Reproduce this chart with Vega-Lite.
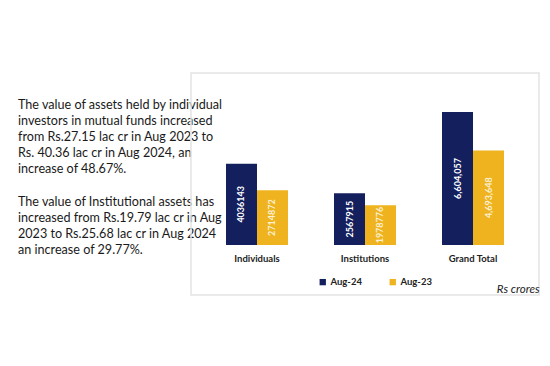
{
  "$schema": "https://vega.github.io/schema/vega-lite/v6.json",
  "autosize": {"type": "pad"},
  "padding": {"left": 0, "top": 72, "right": 0, "bottom": 0},
  "background": "white",
  "spacing": 0,
  "bounds": "flush",
  "config": {"concat": {"spacing": 0}},
  "hconcat": [
    {
      "width": 191,
      "height": 222,
      "view": {"stroke": null, "fill": null},
      "data": {"values": [
        {"line": 0, "text": "The value of assets held by individual"},
        {"line": 1, "text": "investors in mutual funds increased"},
        {"line": 2, "text": "from Rs.27.15 lac cr in Aug 2023 to"},
        {"line": 3, "text": "Rs. 40.36 lac cr in Aug 2024, an"},
        {"line": 4, "text": "increase of  48.67%."},
        {"line": 6, "text": "The value of Institutional assets has"},
        {"line": 7, "text": "increased from Rs.19.79 lac cr in Aug"},
        {"line": 8, "text": "2023 to Rs.25.68  lac cr in Aug 2024"},
        {"line": 9, "text": "an increase of 29.77%."}
      ]},
      "mark": {"type": "text", "align": "left", "baseline": "middle", "font": "Lato", "fontSize": 12.6, "color": "#1a1a1a"},
      "encoding": {
        "x": {"datum": 0, "type": "quantitative", "scale": {"domain": [-18, 173]}, "axis": null},
        "y": {"field": "line", "type": "quantitative", "scale": {"domain": [-1.986, 11.79], "reverse": true, "nice": false, "zero": false}, "axis": null},
        "text": {"field": "text"}
      }
    },
    {
      "width": 348,
      "height": 222,
      "view": {"stroke": "#e3e3e3", "strokeWidth": 1.5, "fill": null},
      "data": {"values": [
        {"category": "Individuals", "period": "Aug-24", "value": 4036143, "label": "4036143"},
        {"category": "Individuals", "period": "Aug-23", "value": 2714872, "label": "2714872"},
        {"category": "Institutions", "period": "Aug-24", "value": 2567915, "label": "2567915"},
        {"category": "Institutions", "period": "Aug-23", "value": 1978776, "label": "1978776"},
        {"category": "Grand Total", "period": "Aug-24", "value": 6604057, "label": "6,604,057"},
        {"category": "Grand Total", "period": "Aug-23", "value": 4693648, "label": "4,693,648"}
      ]},
      "encoding": {
        "x": {
          "field": "category", "type": "nominal",
          "sort": ["Individuals", "Institutions", "Grand Total"],
          "scale": {"paddingInner": 0.426, "paddingOuter": 0.324},
          "axis": {
            "orient": "bottom", "offset": -42, "domain": false, "ticks": false, "grid": false,
            "labelAngle": 0, "labelPadding": 0, "labelFont": "Lato", "labelFontSize": 9.5,
            "labelFontWeight": "bold", "labelColor": "#222222",
            "title": "Rs crores", "titleFont": "Lato", "titleFontSize": 11.5, "titleFontStyle": "italic",
            "titleFontWeight": "normal", "titleColor": "#222222", "titleAnchor": "end", "titleAlign": "right",
            "titlePadding": 21
          }
        },
        "xOffset": {"field": "period", "type": "nominal", "sort": ["Aug-24", "Aug-23"], "scale": {"paddingInner": 0, "paddingOuter": 0}}
      },
      "resolve": {"scale": {"y": "independent"}},
      "layer": [
        {
          "mark": {"type": "bar"},
          "encoding": {
            "y": {"field": "value", "type": "quantitative", "stack": null,
                  "scale": {"domain": [-2482728, 8540600], "nice": false, "zero": false}, "axis": null},
            "y2": {"datum": 0},
            "color": {
              "field": "period", "type": "nominal", "sort": ["Aug-24", "Aug-23"],
              "scale": {"domain": ["Aug-24", "Aug-23"], "range": ["#14205e", "#eeb31f"]},
              "legend": {
                "orient": "none", "legendX": 318, "legendY": 204, "direction": "horizontal",
                "title": null, "symbolType": "square", "symbolSize": 40, "symbolStrokeWidth": 0,
                "labelFont": "Lato", "labelFontSize": 9.5, "labelFontWeight": "bold", "labelColor": "#222222",
                "labelOffset": 3, "columnPadding": 26
              }
            }
          }
        },
        {
          "mark": {"type": "text", "angle": 270, "align": "center", "baseline": "middle", "font": "Lato", "fontSize": 9, "fontWeight": "bold"},
          "encoding": {
            "y": {"field": "value", "type": "quantitative", "stack": null,
                  "scale": {"domain": [-4965456, 17081200], "nice": false, "zero": false}, "axis": null},
            "text": {"field": "label"},
            "fill": {"condition": {"test": "datum.period === 'Aug-24'", "value": "#ffffff"}, "value": "#fbf0d0"}
          }
        }
      ]
    }
  ]
}
